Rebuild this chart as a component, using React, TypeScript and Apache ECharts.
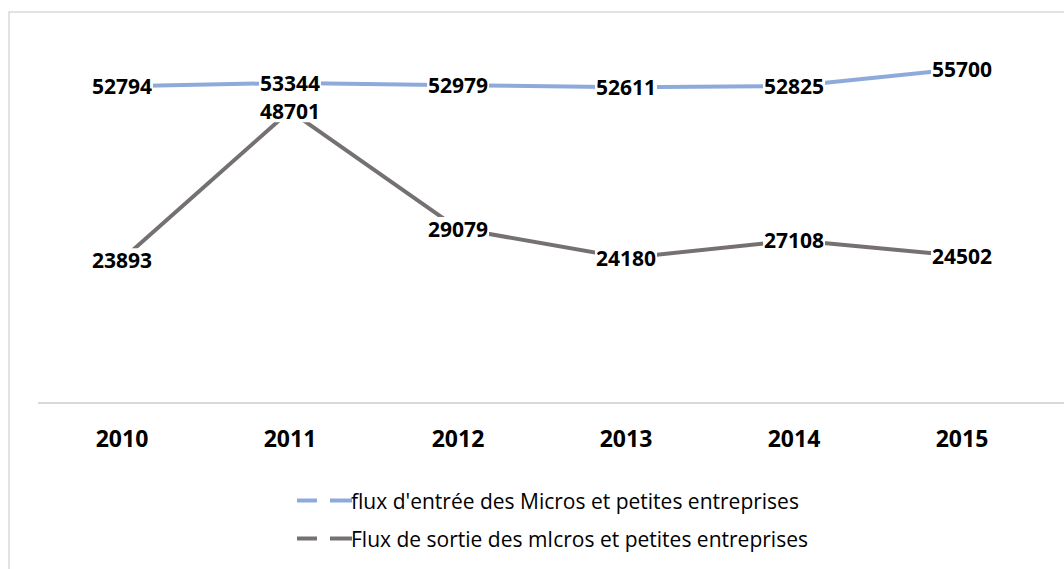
import React, { useEffect, useRef } from "react";
import * as echarts from "echarts";

const years = ["2010", "2011", "2012", "2013", "2014", "2015"];
const entryFlux = [52794, 53344, 52979, 52611, 52825, 55700];
const exitFlux = [23893, 48701, 29079, 24180, 27108, 24502];
const seriesNames = [
  "flux d'entrée des Micros et petites entreprises",
  "Flux de sortie des mIcros et petites entreprises",
];
const colors = ["#8eaadb", "#767171"];

const FONT = "'Open Sans', 'Noto Sans', sans-serif";

export default function App() {
  const ref = useRef<HTMLDivElement>(null);
  useEffect(() => {
    if (!ref.current) return;
    const chart = echarts.init(ref.current, null, { renderer: "svg" });
    const label = {
      show: true,
      position: "inside",
      fontFamily: FONT,
      fontWeight: "bold",
      fontSize: 21,
      color: "#000",
      backgroundColor: "#fff",
      padding: [1, 1],
    };
    const legendIcon = "path://M0,0H20V4H0Z M33,0H55V4H33Z";
    chart.setOption({
      animation: false,
      backgroundColor: "#fff",
      grid: { left: 38, right: 18, top: 43, bottom: 166 },
      xAxis: {
        type: "category",
        data: years,
        boundaryGap: true,
        axisLine: { show: false },
        axisTick: { show: false },
        axisLabel: {
          fontFamily: FONT,
          fontWeight: "bold",
          fontSize: 23,
          color: "#000",
          margin: 23,
        },
      },
      yAxis: {
        type: "value",
        min: 0,
        max: 60000,
        show: false,
        splitLine: { show: false },
      },
      legend: {
        orient: "vertical",
        left: 292,
        top: 484,
        itemWidth: 55,
        itemHeight: 4,
        itemGap: 15,
        itemStyle: { borderWidth: 0 },
        textStyle: {
          fontFamily: FONT,
          fontSize: 21,
          color: "#000",
          padding: [0, 0, 0, -6],
          lineHeight: 23,
        },
        data: [
          { name: seriesNames[0], icon: legendIcon },
          { name: seriesNames[1], icon: legendIcon },
        ],
      },
      graphic: [
        {
          type: "polyline",
          shape: { points: [[9, 600], [9, 12], [1100, 12]] },
          style: { stroke: "#d9d9d9", lineWidth: 1.5, fill: "none" },
          silent: true,
        },
        {
          type: "line",
          shape: { x1: 38, y1: 403, x2: 1064, y2: 403 },
          style: { stroke: "#d9d9d9", lineWidth: 2 },
          silent: true,
        },
      ],
      series: [
        {
          name: seriesNames[0],
          type: "line",
          data: entryFlux,
          symbol: "circle",
          symbolSize: 1,
          itemStyle: { color: colors[0] },
          lineStyle: { color: colors[0], width: 4 },
          label,
          z: 2,
        },
        {
          name: seriesNames[1],
          type: "line",
          data: exitFlux,
          symbol: "circle",
          symbolSize: 1,
          itemStyle: { color: colors[1] },
          lineStyle: { color: colors[1], width: 4 },
          label,
          z: 2,
        },
      ],
    });
    return () => chart.dispose();
  }, []);
  return (
    <div
      ref={ref}
      style={{ position: "fixed", left: 0, top: 0, width: 1064, height: 569 }}
    />
  );
}
